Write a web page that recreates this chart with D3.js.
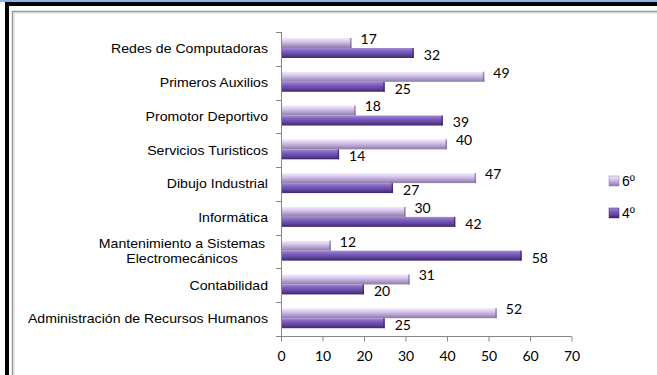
<!DOCTYPE html>
<html>
<head>
<meta charset="utf-8">
<script src="https://d3js.org/d3.v7.min.js"></script>
<style>
    body { margin: 0; background: #ffffff; }
    svg { display: block; }
    text.cat { font-family: "Liberation Sans", Arial, sans-serif; font-size: 12.5px; fill: #000000; }
    text.val { font-family: Lato, sans-serif; font-size: 14px; fill: #000000; }
    .xaxis text { font-family: Lato, sans-serif; font-size: 14px; fill: #000000; }
    text.leg { font-family: "Liberation Sans", Arial, sans-serif; font-size: 14px; fill: #000000; }
</style>
</head>
<body>
<div id="container"></div>
<script>
    // categories, from top to bottom as drawn
    const categories = [
        "Redes de Computadoras",
        "Primeros Auxilios",
        "Promotor Deportivo",
        "Servicios Turisticos",
        "Dibujo Industrial",
        "Informática",
        "Mantenimiento a Sistemas|Electromecánicos",
        "Contabilidad",
        "Administración de Recursos Humanos"
    ];
    const series = ["6º", "4º"];
    const values6 = [17, 49, 18, 40, 47, 30, 12, 31, 52];
    const values4 = [32, 25, 39, 14, 27, 42, 58, 20, 25];
    const xTicks = [0, 10, 20, 30, 40, 50, 60, 70];

    const W = 657, H = 375;
    const svg = d3.select("#container").append("svg")
        .attr("width", W).attr("height", H);

    // gradients for the bars
    const defs = svg.append("defs");
    const grads = [
        {id: "g6", stops: ["#f3ebfc", "#d9c9ef", "#b3a0cc", "#8c7aa6"]},
        {id: "g4", stops: ["#a48ad8", "#7c5fbe", "#6245a0", "#3e2668"]}
    ];
    grads.forEach(g => {
        const lg = defs.append("linearGradient").attr("id", g.id)
            .attr("x1", 0).attr("y1", 0).attr("x2", 0).attr("y2", 1);
        g.stops.forEach((c, i) => lg.append("stop")
            .attr("offset", (i / (g.stops.length - 1)))
            .attr("stop-color", c));
    });

    // page frame (slide borders)
    svg.append("rect").attr("x", 0).attr("y", 0).attr("width", W).attr("height", 2)
        .attr("fill", "#8db3e2");
    svg.append("rect").attr("x", 5).attr("y", 2).attr("width", W - 5).attr("height", 4)
        .attr("fill", "#000000");
    svg.append("rect").attr("x", 5).attr("y", 2).attr("width", 4).attr("height", H)
        .attr("fill", "#000000");
    svg.append("rect").attr("x", 12.5).attr("y", 11.5).attr("width", W).attr("height", H)
        .attr("fill", "none").attr("stroke", "#9a9a9a").attr("stroke-width", 1.5);
    svg.append("rect").attr("x", 14).attr("y", 13).attr("width", W).attr("height", H)
        .attr("fill", "none").attr("stroke", "#d4d4d4").attr("stroke-width", 1);

    const x = d3.scaleLinear().domain([0, 70]).range([281, 571.5]);
    const y = d3.scaleBand().domain(categories).range([32, 336]);
    const inner = d3.scaleBand().domain(series).range([6, y.bandwidth() - 7.8]);

    // y axis: line + ticks at category boundaries
    const axisColor = "#868686";
    svg.append("line").attr("x1", x(0) + 0.5).attr("x2", x(0) + 0.5)
        .attr("y1", y.range()[0]).attr("y2", y.range()[1])
        .attr("stroke", axisColor);
    d3.range(categories.length + 1).forEach(i => {
        const yy = Math.round(y.range()[0] + i * y.step()) + 0.5;
        svg.append("line").attr("x1", x(0) - 5).attr("x2", x(0) + 0.5)
            .attr("y1", yy).attr("y2", yy).attr("stroke", axisColor);
    });

    // x axis
    const xAxis = svg.append("g").attr("class", "xaxis")
        .attr("transform", "translate(0," + (y.range()[1] + 0.5) + ")")
        .call(d3.axisBottom(x).tickValues(xTicks).tickSize(5).tickPadding(10));
    xAxis.selectAll("path, line").attr("stroke", axisColor);
    xAxis.select(".domain").attr("d", "M" + x(0) + ",0H" + x(70));

    // category labels (the source text is a bit stretched horizontally)
    const stretch = 1.13;
    categories.forEach(c => {
        const parts = c.split("|");
        const cy = y(c) + y.bandwidth() / 2;
        if (parts.length === 1) {
            svg.append("text").attr("class", "cat")
                .attr("transform", "translate(268," + cy + ") scale(" + stretch + ",1)")
                .attr("dy", "0.35em")
                .attr("text-anchor", "end").text(c);
        } else {
            parts.forEach((p, i) => {
                svg.append("text").attr("class", "cat")
                    .attr("transform", "translate(182," + (cy + (i - 0.5) * 15) + ") scale(" + stretch + ",1)")
                    .attr("dy", "0.35em")
                    .attr("text-anchor", "middle").text(p);
            });
        }
    });

    // bars
    const rows = categories.map((c, i) => ({cat: c, "6º": values6[i], "4º": values4[i]}));
    series.forEach(s => {
        const g = svg.append("g");
        g.selectAll("rect.bar").data(rows).enter().append("rect")
            .attr("class", "bar")
            .attr("x", x(0) + 1)
            .attr("y", d => y(d.cat) + inner(s))
            .attr("width", d => x(d[s]) - x(0) - 1)
            .attr("height", inner.bandwidth())
            .attr("fill", s === "6º" ? "url(#g6)" : "url(#g4)");
        // dark end cap
        g.selectAll("rect.cap").data(rows).enter().append("rect")
            .attr("class", "cap")
            .attr("x", d => x(d[s]) - 1.5)
            .attr("y", d => y(d.cat) + inner(s))
            .attr("width", 1.5)
            .attr("height", inner.bandwidth())
            .attr("fill", s === "6º" ? "#7d6b96" : "#3a2464")
            .attr("opacity", 0.7);
        // value labels
        g.selectAll("text.val").data(rows).enter().append("text")
            .attr("class", "val")
            .attr("x", d => x(d[s]) + (s === "6º" ? 9 : 10))
            .attr("y", d => y(d.cat) + inner(s) + inner.bandwidth() / 2 + (s === "6º" ? -4 : 2))
            .attr("dy", "0.35em")
            .text(d => d[s]);
    });

    // legend
    const legY = [181, 213];
    series.forEach((s, i) => {
        svg.append("rect").attr("x", 609).attr("y", legY[i] - 5)
            .attr("width", 10).attr("height", 10)
            .attr("fill", s === "6º" ? "url(#g6)" : "url(#g4)")
            .attr("stroke", s === "6º" ? "#8c7aa6" : "#432a72").attr("stroke-width", 0.5);
        svg.append("text").attr("class", "leg")
            .attr("x", 622).attr("y", legY[i]).attr("dy", "0.35em").text(s);
    });
</script>
</body>
</html>
